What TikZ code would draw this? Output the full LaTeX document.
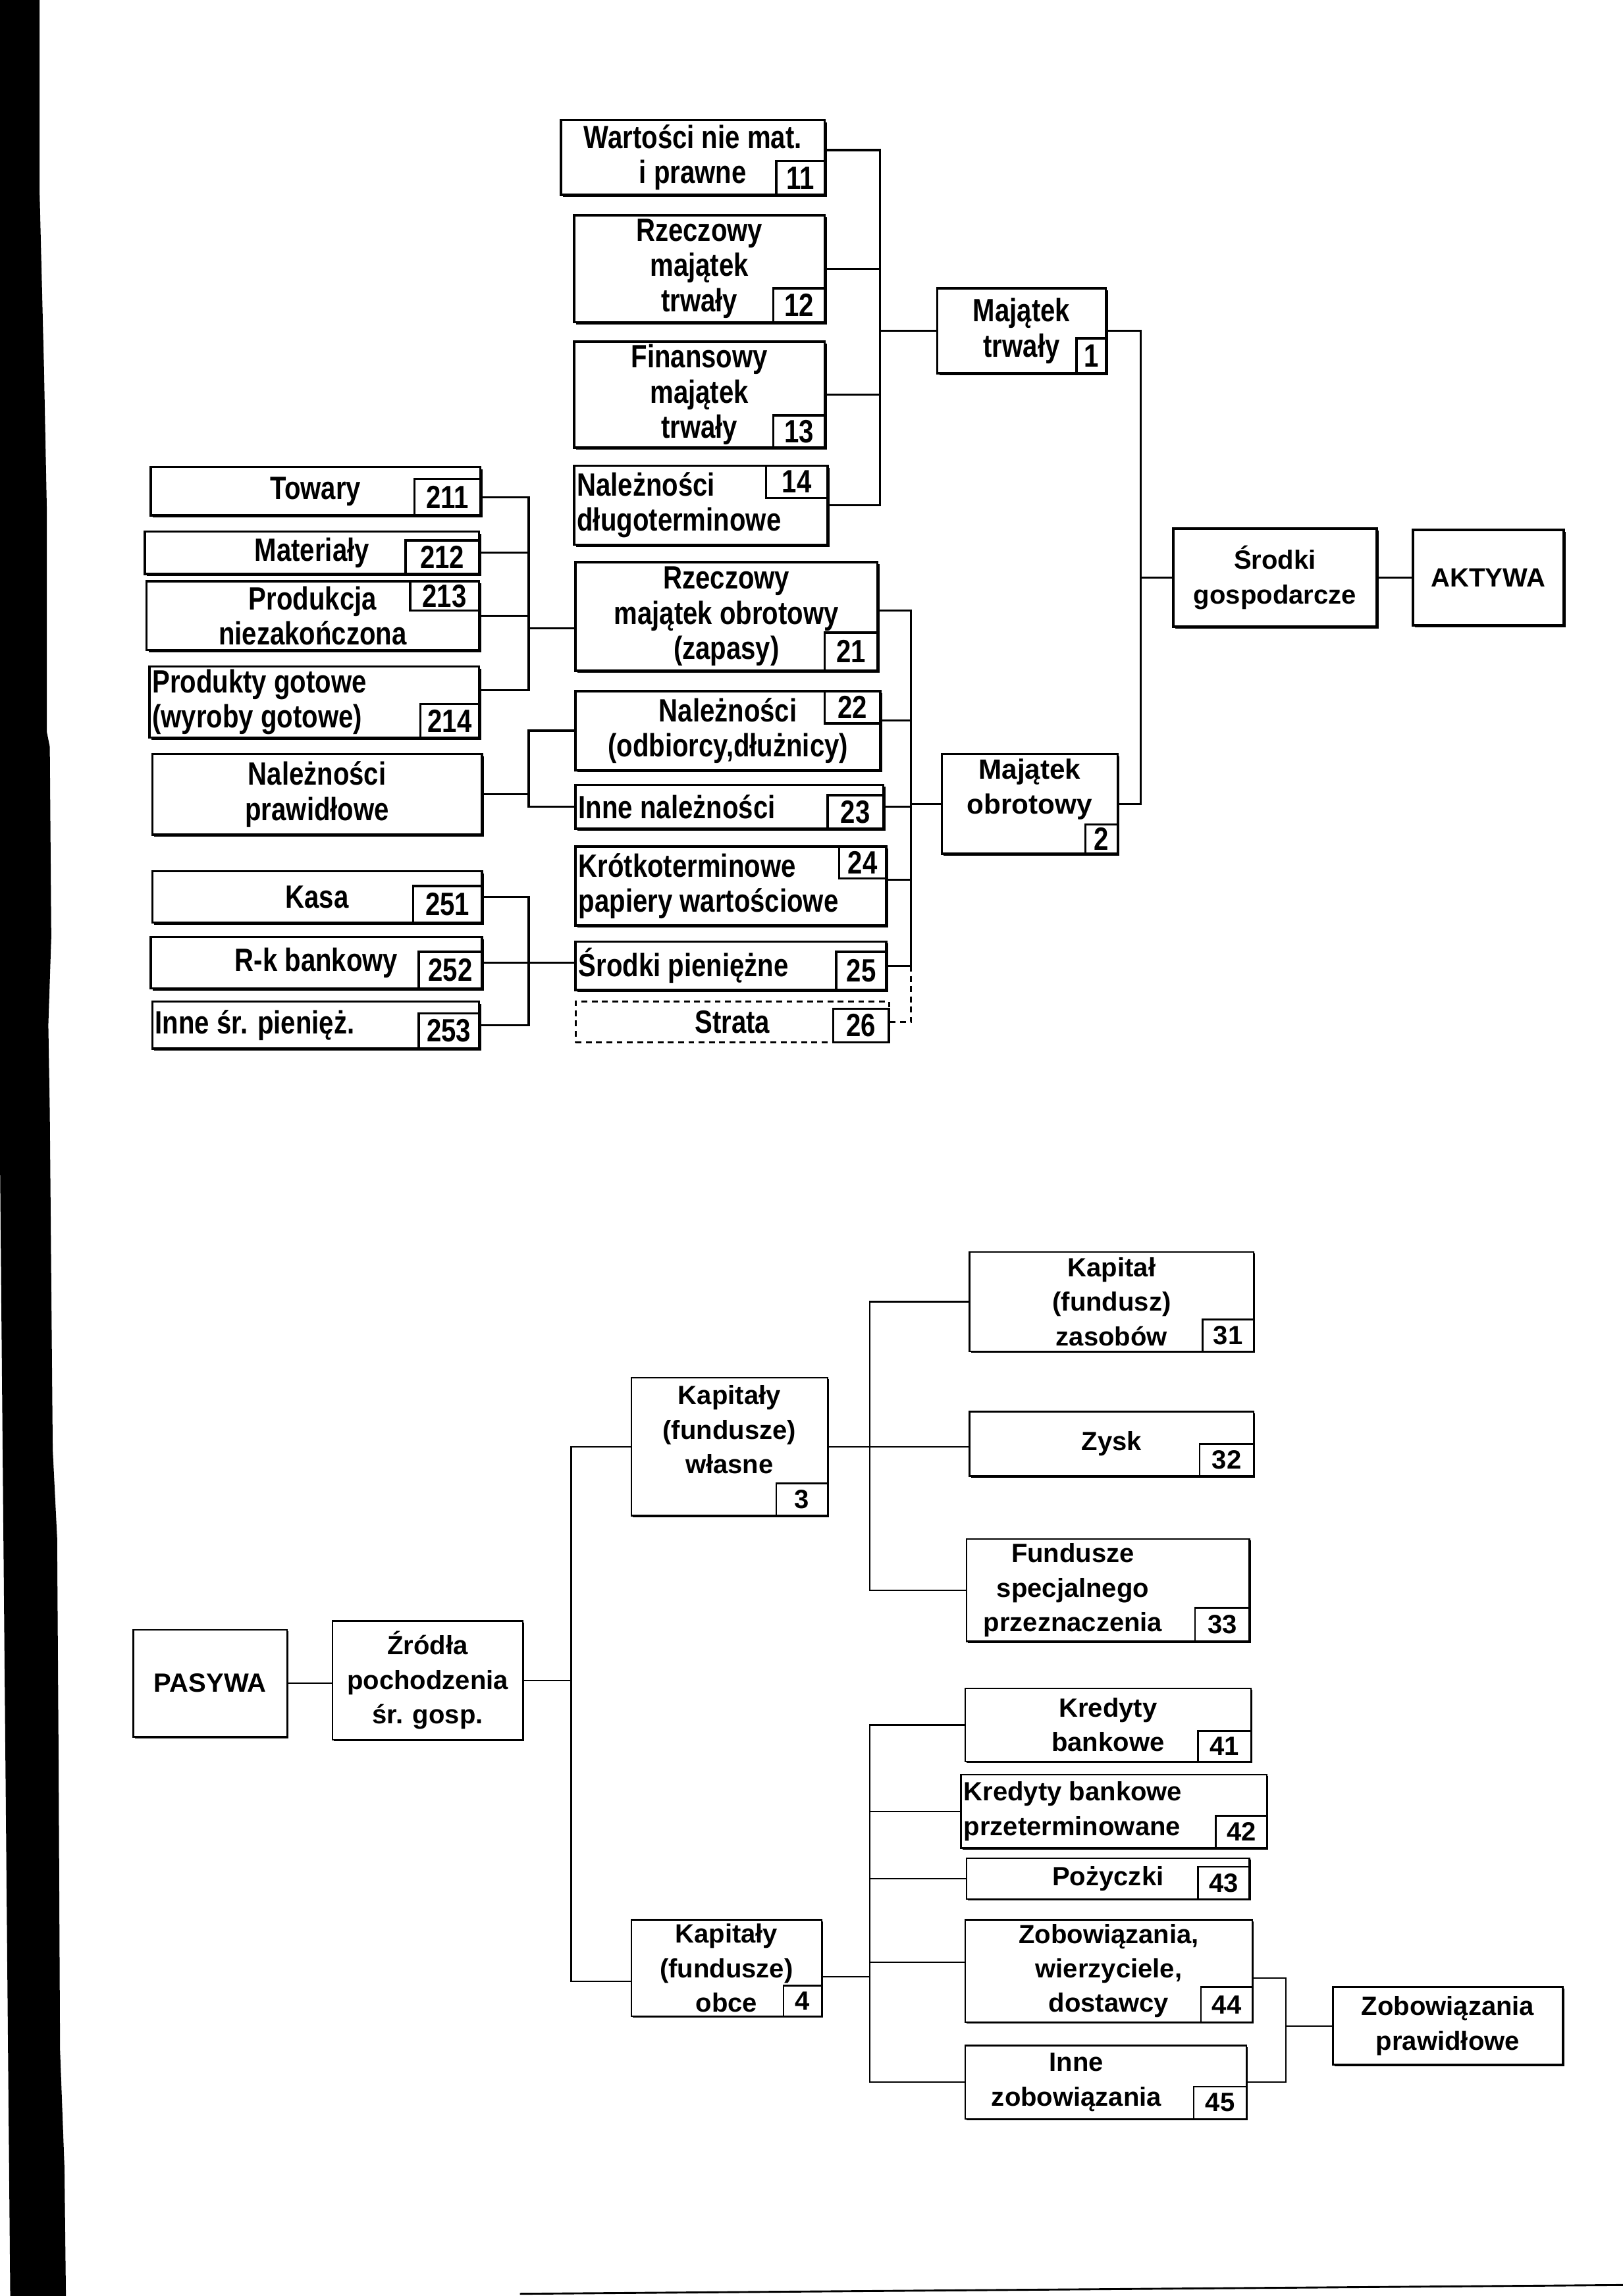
\documentclass[tikz,border=0pt]{standalone}
\usepackage{fontspec}
\setmainfont{Liberation Sans}
\newfontfamily\narrowsans{Liberation Sans}[FakeStretch=0.82]
\usetikzlibrary{positioning,calc,shadows}

\newcommand\upperfont{\narrowsans\bfseries\fontsize{22}{24}\selectfont}
\newcommand\lowerfont{\bfseries\fontsize{18}{23.5}\selectfont}

\begin{document}
\begin{tikzpicture}[
    x=1pt, y=-1pt,
    box/.style={draw, fill=white, line width=1.6pt, inner sep=2pt, align=center},
    shade/.style={drop shadow={shadow xshift=1.4pt, shadow yshift=-1.4pt, fill=black, opacity=1}},
    upper/.style={box, shade, font=\upperfont},
    plain/.style={box, shade, font=\lowerfont},
    lower/.style={box, line width=1.1pt, font=\lowerfont,
      drop shadow={shadow xshift=1pt, shadow yshift=-1pt, fill=black, opacity=1}},
    lossbox/.style={draw, dashed, dash pattern=on 4pt off 3pt, fill=white, line width=1.3pt, inner sep=2pt, font=\upperfont},
    num/.style={draw, fill=white, line width=1.6pt, inner sep=0pt, font=\upperfont},
    lnum/.style={num, line width=1.1pt, font=\lowerfont},
    inside/.style={align=center, font=\lowerfont},
    link/.style={line width=1.4pt},
    thinlink/.style={line width=1pt}
  ]
  \useasboundingbox (0,0) rectangle (1108,1568);

  % scanned page edge
  \fill (0,0) -- (27,0) -- (27,130) -- (30,250) -- (32,350) -- (32,500) -- (34,510)
    -- (35,640) -- (33,700) -- (34,760) -- (36,990) -- (39,1050) -- (40,1200)
    -- (41,1400) -- (44,1480) -- (45,1568) -- (7,1568) -- (0,790) -- cycle;
  \draw[line width=1.3pt] (355,1566.5) -- (1108,1560.5);

  % AKTYWA
  \node[upper, minimum width=180pt, minimum height=51pt] (b11) at (473,107.5) {Wartości nie mat.\\i prawne};
  \node[upper, minimum width=171pt, minimum height=73pt] (b12) at (477.5,183.5) {Rzeczowy\\majątek\\trwały};
  \node[upper, minimum width=171pt, minimum height=71pt] (b13) at (477.5,269.5) {Finansowy\\majątek\\trwały};
  \node[upper, minimum width=173pt, minimum height=54pt, align=flush left, text width=169pt] (b14) at (478.5,345) {Należności\\długoterminowe};
  \node[upper, minimum width=115pt, minimum height=58pt] (m1) at (697.5,226) {Majątek\\trwały};
  \node[plain, font=\bfseries\fontsize{19}{24}\selectfont, minimum width=120pt, minimum height=68pt] (m2) at (703,549) {Majątek\\obrotowy\\\mbox{}};
  \node[plain, minimum width=139pt, minimum height=67pt] (sg) at (870.5,394.5) {Środki\\gospodarcze};
  \node[plain, minimum width=103pt, minimum height=65pt, right=23pt of sg] (ak) {AKTYWA};

  \node[upper, minimum width=225pt, minimum height=33pt] (t211) at (215.5,335.5) {Towary};
  \node[upper, minimum width=228pt, minimum height=29pt] (t212) at (213,377.5) {Materiały};
  \node[upper, minimum width=227pt, minimum height=47pt] (t213) at (213.5,420.5) {Produkcja\\niezakończona};
  \node[upper, minimum width=225pt, minimum height=47pt, align=flush left, text width=221pt] (t214) at (214.5,479.5) {Produkty gotowe\\(wyroby gotowe)};
  \node[upper, minimum width=225pt, minimum height=55pt] (np) at (216.5,542.5) {Należności\\prawidłowe};
  \node[upper, minimum width=225pt, minimum height=35pt] (k251) at (216.5,612.5) {Kasa};
  \node[upper, minimum width=226pt, minimum height=35pt] (k252) at (216,657.5) {R-k bankowy};
  \node[upper, minimum width=223pt, minimum height=32pt, align=flush left, text width=219pt] (k253) at (215.5,700) {Inne śr. pienięż.};

  \node[upper, minimum width=206pt, minimum height=74pt] (s21) at (496,421) {Rzeczowy\\majątek obrotowy\\(zapasy)};
  \node[upper, minimum width=208pt, minimum height=54pt] (s22) at (497,499) {Należności\\(odbiorcy,dłużnicy)};
  \node[upper, minimum width=210pt, minimum height=30pt, align=flush left, text width=206pt] (s23) at (498,551) {Inne należności};
  \node[upper, minimum width=212pt, minimum height=54pt, align=flush left, text width=208pt] (s24) at (499,605) {Krótkoterminowe\\papiery wartościowe};
  \node[upper, minimum width=212pt, minimum height=33pt, align=flush left, text width=208pt] (s25) at (499,659.5) {Środki pieniężne};
  \node[lossbox, minimum width=214pt, minimum height=28pt] (s26) at (500,698) {Strata};

  \node[num, minimum width=33pt, minimum height=23pt, anchor=south east] (n11) at (b11.south east) {11};
  \node[num, minimum width=35pt, minimum height=23pt, anchor=south east] (n12) at (b12.south east) {12};
  \node[num, minimum width=35pt, minimum height=22pt, anchor=south east] (n13) at (b13.south east) {13};
  \node[num, minimum width=42pt, minimum height=22pt, anchor=north east] (n14) at (b14.north east) {14};
  \node[num, minimum width=20pt, minimum height=24pt, anchor=south east] (n1) at (m1.south east) {1};
  \node[num, minimum width=22pt, minimum height=20pt, anchor=south east] (n2) at (m2.south east) {2};
  \node[num, minimum width=45pt, minimum height=25pt, anchor=south east] (n211) at (t211.south east) {211};
  \node[num, minimum width=50pt, minimum height=23pt, anchor=south east] (n212) at (t212.south east) {212};
  \node[num, minimum width=47pt, minimum height=20pt, anchor=north east] (n213) at (t213.north east) {213};
  \node[num, minimum width=40pt, minimum height=23pt, anchor=south east] (n214) at (t214.south east) {214};
  \node[num, minimum width=47pt, minimum height=25pt, anchor=south east] (n251) at (k251.south east) {251};
  \node[num, minimum width=43pt, minimum height=25pt, anchor=south east] (n252) at (k252.south east) {252};
  \node[num, minimum width=41pt, minimum height=24pt, anchor=south east] (n253) at (k253.south east) {253};
  \node[num, minimum width=36pt, minimum height=26pt, anchor=south east] (n21) at (s21.south east) {21};
  \node[num, minimum width=38pt, minimum height=22pt, anchor=north east] (n22) at (s22.north east) {22};
  \node[num, minimum width=38pt, minimum height=23pt, anchor=south east] (n23) at (s23.south east) {23};
  \node[num, minimum width=32pt, minimum height=22pt, anchor=north east] (n24) at (s24.north east) {24};
  \node[num, minimum width=34pt, minimum height=26pt, anchor=south east] (n25) at (s25.south east) {25};
  \node[num, minimum width=38pt, minimum height=23pt, anchor=south east] (n26) at (s26.south east) {26};

  \coordinate (busA) at (601,0);
  \coordinate (busB) at (779,0);
  \coordinate (busC) at (361,0);
  \coordinate (busD) at (622,0);
  \coordinate (b11out) at ([yshift=5pt]b11.east);
  \coordinate (t211out) at ([yshift=-4pt]t211.east);
  \coordinate (t214out) at ([yshift=8pt]t214.east);
  \coordinate (s21in) at ([yshift=-8pt]s21.west);
  \coordinate (s21out) at ([yshift=4pt]s21.east);
  \coordinate (s22out) at ([yshift=7pt]s22.east);
  \coordinate (s24out) at ([yshift=4pt]s24.east);

  \draw[link] (b11out) -- (b11out -| busA) -- (b14.east -| busA) -- (b14.east);
  \draw[link] (b12.east) -- (b12.east -| busA);
  \draw[link] (b13.east) -- (b13.east -| busA);
  \draw[link] (m1.west) -- (m1.west -| busA);

  \draw[link] (m1.east) -- (m1.east -| busB) -- (m2.east -| busB) -- (m2.east);
  \draw[link] (sg.west) -- (sg.west -| busB);
  \draw[link] (sg) -- (ak);

  \draw[link] (t211out) -- (t211out -| busC) -- (t214out -| busC) -- (t214out);
  \draw[link] (t212.east) -- (t212.east -| busC);
  \draw[link] (t213.east) -- (t213.east -| busC);
  \draw[link] (s21in) -- (s21in -| busC);
  \draw[link] (s22.west) -- (s22.west -| busC) -- (s23.west -| busC) -- (s23.west);
  \draw[link] (np.east) -- (np.east -| busC);
  \draw[link] (k251.east) -- (k251.east -| busC) -- (k253.east -| busC) -- (k253.east);
  \draw[link] (k252.east) -- (k252.east -| s25.west);

  \draw[link] (s21out) -- (s21out -| busD) -- (s25.east -| busD) -- (s25.east);
  \draw[link] (s22out) -- (s22out -| busD);
  \draw[link] (s23.east) -- (s23.east -| busD);
  \draw[link] (s24out) -- (s24out -| busD);
  \draw[link] (m2.west) -- (m2.west -| busD);
  \draw[link, dashed, dash pattern=on 4pt off 3pt] (s25.east -| busD) -- (s26.east -| busD) -- (s26.east);

  % PASYWA
  \node[lower, minimum width=105pt, minimum height=73pt] (pas) at (143.5,1149.5) {PASYWA};
  \node[lower, minimum width=130pt, minimum height=81pt] (zr) at (292,1147.5) {Źródła\\pochodzenia\\śr. gosp.};
  \node[lower, minimum width=134pt, minimum height=94pt] (k3) at (498,988) {Kapitały\\(fundusze)\\własne\\\mbox{}};
  \node[lower, minimum width=130pt, minimum height=66pt] (k4) at (496,1344) {Kapitały\\(fundusze)\\obce};
  \node[lower, minimum width=194pt, minimum height=68pt] (c31) at (759,889) {Kapitał\\(fundusz)\\zasobów};
  \node[lower, minimum width=194pt, minimum height=44pt] (c32) at (759,986) {Zysk};
  \node[lower, minimum width=193pt, minimum height=70pt,
    label={[inside, xshift=-24pt]center:{Fundusze\\specjalnego\\przeznaczenia}}] (c33) at (756.5,1086) {};
  \node[lower, minimum width=195pt, minimum height=50pt] (c41) at (756.5,1178) {Kredyty\\bankowe};
  \node[lower, minimum width=209pt, minimum height=50pt, align=flush left, text width=205pt] (c42) at (760.5,1237) {Kredyty bankowe\\przeterminowane};
  \node[lower, minimum width=193pt, minimum height=28pt] (c43) at (756.5,1283) {Pożyczki};
  \node[lower, minimum width=196pt, minimum height=70pt] (c44) at (757,1346) {Zobowiązania,\\wierzyciele,\\dostawcy};
  \node[lower, minimum width=192pt, minimum height=50pt,
    label={[inside, xshift=-20pt]center:{Inne\\zobowiązania}}] (c45) at (755,1422) {};
  \node[lower, minimum width=157pt, minimum height=53pt] (zp) at (988.5,1383.5) {Zobowiązania\\prawidłowe};

  \node[lnum, minimum width=35pt, minimum height=22pt, anchor=south east] (n3) at (k3.south east) {3};
  \node[lnum, minimum width=26pt, minimum height=21pt, anchor=south east] (n4) at (k4.south east) {4};
  \node[lnum, minimum width=35pt, minimum height=22pt, anchor=south east] (n31) at (c31.south east) {31};
  \node[lnum, minimum width=37pt, minimum height=22pt, anchor=south east] (n32) at (c32.south east) {32};
  \node[lnum, minimum width=37pt, minimum height=23pt, anchor=south east] (n33) at (c33.south east) {33};
  \node[lnum, minimum width=36pt, minimum height=21pt, anchor=south east] (n41) at (c41.south east) {41};
  \node[lnum, minimum width=35pt, minimum height=22pt, anchor=south east] (n42) at (c42.south east) {42};
  \node[lnum, minimum width=35pt, minimum height=22pt, anchor=south east] (n43) at (c43.south east) {43};
  \node[lnum, minimum width=35pt, minimum height=24pt, anchor=south east] (n44) at (c44.south east) {44};
  \node[lnum, minimum width=36pt, minimum height=22pt, anchor=south east] (n45) at (c45.south east) {45};

  \coordinate (busE) at (390,0);
  \coordinate (busF) at (594,0);
  \coordinate (busG) at (878,0);
  \coordinate (k4in) at ([yshift=-9pt]k4.west);
  \coordinate (k4out) at ([yshift=-6pt]k4.east);
  \coordinate (c44in) at ([yshift=6pt]c44.west);
  \coordinate (c44out) at ([yshift=-5pt]c44.east);

  \draw[thinlink] (pas.east) -- (pas.east -| zr.west);
  \draw[thinlink] (k3.west) -- (k3.west -| busE) -- (k4in -| busE) -- (k4in);
  \draw[thinlink] (zr.east) -- (zr.east -| busE);

  \draw[thinlink] (c31.west) -- (c31.west -| busF) -- (c33.west -| busF) -- (c33.west);
  \draw[thinlink] (k3.east) -- (k3.east -| c32.west);
  \draw[thinlink] (c41.west) -- (c41.west -| busF) -- (c45.west -| busF) -- (c45.west);
  \draw[thinlink] (c42.west) -- (c42.west -| busF);
  \draw[thinlink] (c43.west) -- (c43.west -| busF);
  \draw[thinlink] (c44in) -- (c44in -| busF);
  \draw[thinlink] (k4out) -- (k4out -| busF);

  \draw[thinlink] (c44out) -- (c44out -| busG) -- (c45.east -| busG) -- (c45.east);
  \draw[thinlink] (zp.west) -- (zp.west -| busG);
\end{tikzpicture}
\end{document}
